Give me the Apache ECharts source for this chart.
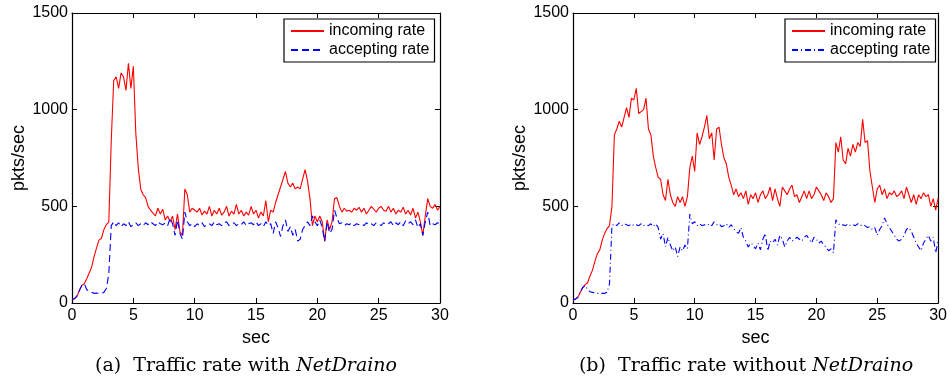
<!DOCTYPE html>
<html><head><meta charset="utf-8">
<script src="https://cdn.jsdelivr.net/npm/echarts@6/dist/echarts.min.js"></script>
<style>html,body{margin:0;padding:0;background:#fff}#c{width:950px;height:380px}</style>
</head><body><div id="c"></div><script>
// sampling step of the time axis (sec)
const step = 0.2;
const xTicks = [0, 5, 10, 15, 20, 25, 30];
const yTicks = [0, 500, 1000, 1500];

// (a) with NetDraino
const incomingA = [
18,22,35,65,92,100,125,155,185,240,285,325,335,380,405,418,840,1150,1170,1110,
1190,1170,1100,1240,1110,1225,880,700,590,560,545,500,480,465,450,490,460,485,430,450,
420,450,380,460,370,350,590,560,470,490,480,470,490,455,475,460,500,450,480,460,
490,455,470,500,450,475,460,510,460,480,450,470,455,500,460,480,440,470,450,530,
420,480,470,520,560,600,640,680,620,600,620,590,600,590,640,690,630,540,400,450,
420,450,420,320,430,380,420,540,545,500,470,490,475,480,470,490,480,495,470,490,
460,480,500,485,470,490,500,480,475,500,470,490,460,480,470,495,460,480,455,490,
440,470,420,350,450,540,500,490,510,480,500
];
const acceptingA = [
18,22,35,65,90,100,70,60,55,50,52,50,50,55,75,150,400,420,400,415,
395,410,400,420,395,405,415,400,410,400,415,405,420,410,400,420,410,405,415,400,
440,410,350,430,360,330,470,420,400,410,395,410,400,415,395,405,410,400,420,405,
410,400,415,420,400,410,415,400,410,405,420,400,410,415,405,420,400,410,395,420,
400,410,360,420,390,345,400,430,370,395,350,380,320,330,380,400,420,400,450,420,
400,430,390,320,420,360,380,480,440,410,415,400,410,405,415,400,410,405,410,400,
415,405,410,400,415,410,400,415,405,410,420,400,415,405,420,400,425,410,420,405,
430,390,410,350,420,470,400,410,405,415,410
];

// (b) without NetDraino
const incomingB = [
15,20,30,55,80,95,105,140,170,215,255,275,325,360,385,400,500,870,900,940,
910,960,1010,960,1060,1050,1110,980,990,1000,1060,900,870,760,700,650,640,560,530,640,
560,520,500,550,520,550,500,550,700,760,680,880,820,860,910,970,850,880,740,900,
910,820,750,720,650,610,560,590,550,570,540,580,510,560,540,570,520,560,580,540,
560,600,530,590,540,500,600,580,560,590,610,550,560,520,550,580,540,580,540,560,
600,580,560,530,570,550,520,540,830,780,860,740,720,800,760,820,780,830,810,950,
830,840,680,600,520,590,610,560,590,540,570,560,580,550,560,580,540,600,560,520,
560,510,560,540,570,550,560,500,540,480,540
];
const acceptingB = [
15,20,30,55,80,90,70,58,55,52,50,52,50,50,55,100,400,410,400,415,
400,410,405,400,410,400,405,400,410,400,405,400,410,395,410,390,330,360,290,340,
300,270,290,240,290,270,300,280,460,410,420,400,410,400,405,400,410,400,420,405,
410,395,400,410,390,405,385,370,360,390,340,320,290,310,300,280,310,275,330,360,
270,320,310,330,300,350,330,290,320,340,320,330,340,330,320,340,350,330,310,340,
330,310,320,300,290,270,280,260,430,410,400,405,400,410,400,405,400,410,400,405,
400,390,395,380,390,350,380,400,440,410,390,370,350,330,320,330,350,380,390,370,
340,310,290,270,310,330,350,320,340,260,320
];

function pairs(arr) { return arr.map((v, i) => [Math.round(i * step * 10) / 10, v]); }

const FONT = 'Liberation Sans, Arial, sans-serif';
const SERIF = 'DejaVu Serif';
const black = '#000';

function xAxes(g) {
  return [
    { gridIndex: g, type: 'value', min: 0, max: 30, interval: 5, position: 'bottom',
      axisLine: { show: true, onZero: false, lineStyle: { color: black, width: 1.2 } },
      axisTick: { show: true, inside: true, length: 5, lineStyle: { color: black } },
      axisLabel: { color: black, fontSize: 16, fontFamily: FONT, margin: 5,
        formatter: v => xTicks.includes(v) ? String(v) : '' },
      splitLine: { show: false },
      name: 'sec', nameLocation: 'middle', nameGap: 23,
      nameTextStyle: { color: black, fontSize: 18, fontFamily: FONT } },
    { gridIndex: g, type: 'value', min: 0, max: 30, interval: 5, position: 'top',
      axisLine: { show: true, onZero: false, lineStyle: { color: black, width: 1.2 } },
      axisTick: { show: true, inside: true, length: 5, lineStyle: { color: black } },
      axisLabel: { show: false }, splitLine: { show: false } }
  ];
}
function yAxes(g) {
  return [
    { gridIndex: g, type: 'value', min: 0, max: 1500, interval: 500, position: 'left',
      axisLine: { show: true, onZero: false, lineStyle: { color: black, width: 1.2 } },
      axisTick: { show: true, inside: true, length: 5, lineStyle: { color: black } },
      axisLabel: { color: black, fontSize: 16, fontFamily: FONT, margin: 4,
        formatter: v => yTicks.includes(v) ? String(v) : '' },
      splitLine: { show: false },
      name: 'pkts/sec', nameLocation: 'middle', nameGap: 44, nameRotate: 90,
      nameTextStyle: { color: black, fontSize: 18, fontFamily: FONT } },
    { gridIndex: g, type: 'value', min: 0, max: 1500, interval: 500, position: 'right',
      axisLine: { show: true, onZero: false, lineStyle: { color: black, width: 1.2 } },
      axisTick: { show: true, inside: true, length: 5, lineStyle: { color: black } },
      axisLabel: { show: false }, splitLine: { show: false } }
  ];
}

function lineSeries(name, data, xi, yi, color, dash) {
  return { name, type: 'line', xAxisIndex: xi, yAxisIndex: yi, data: pairs(data),
    symbol: 'none', showSymbol: false, animation: false,
    lineStyle: { color, width: 1.1, type: dash }, itemStyle: { color } };
}

function legend(left, names) {
  return { left, top: 19, orient: 'vertical',
    data: names, formatter: n => n.replace(' (b)', ''),
    backgroundColor: '#fff', borderColor: black, borderWidth: 1.2,
    padding: [4, 5, 4, 6], itemGap: 3, itemWidth: 33, itemHeight: 16,
    itemStyle: { opacity: 0, borderWidth: 0 },
    textStyle: { color: black, fontSize: 16, fontFamily: FONT } };
}

const chart = echarts.init(document.getElementById('c'), null, { renderer: 'canvas' });
chart.setOption({
  animation: false,
  backgroundColor: '#fff',
  grid: [
    { left: 72, right: 510, top: 13, bottom: 77 },
    { left: 573, right: 9, top: 13, bottom: 77 }
  ],
  xAxis: [...xAxes(0), ...xAxes(1)],
  yAxis: [...yAxes(0), ...yAxes(1)],
  legend: [
    legend(284, ['incoming rate', 'accepting rate']),
    legend(785, ['incoming rate (b)', 'accepting rate (b)'])
  ],
  series: [
    lineSeries('incoming rate', incomingA, 0, 0, '#ff0000', 'solid'),
    lineSeries('accepting rate', acceptingA, 0, 0, '#0000ff', [7, 4]),
    lineSeries('incoming rate (b)', incomingB, 2, 2, '#ff0000', 'solid'),
    lineSeries('accepting rate (b)', acceptingB, 2, 2, '#0000ff', [6, 3, 1, 3])
  ],
  graphic: [
    { id: 'capA', type: 'text', silent: true, x: 246, y: 366,
      style: { text: '{n|(a)  Traffic rate with }{i|NetDraino}', align: 'center', verticalAlign: 'middle',
        rich: { n: { fontFamily: SERIF, fontSize: 19, fill: '#000' },
                i: { fontFamily: SERIF, fontStyle: 'italic', fontSize: 19, fill: '#000' } } } },
    { id: 'capB', type: 'text', silent: true, x: 746, y: 366,
      style: { text: '{n|(b)  Traffic rate without }{i|NetDraino}', align: 'center', verticalAlign: 'middle',
        rich: { n: { fontFamily: SERIF, fontSize: 19, fill: '#000' },
                i: { fontFamily: SERIF, fontStyle: 'italic', fontSize: 19, fill: '#000' } } } }
  ]
});
</script></body></html>
